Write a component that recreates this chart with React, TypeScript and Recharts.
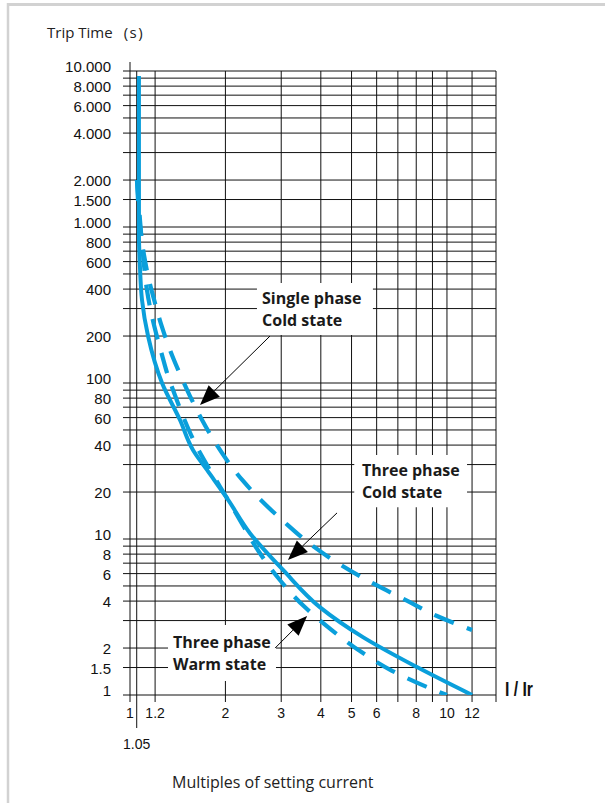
import React from 'react';
import { LineChart, Line, XAxis, YAxis, CartesianGrid, ReferenceLine, ReferenceArea, ReferenceDot } from 'recharts';

const X_MIN = 1;
const X_MAX = 14.28;
const Y_MIN = 1;
const Y_MAX = 10000;

const xGrid = [1, 1.05, 1.2, 2, 3, 4, 5, 6, 7, 8, 9, 10, 12, X_MAX];
const xLabelValues = [1, 1.05, 1.2, 2, 3, 4, 5, 6, 8, 10, 12];
const xLabelTexts = ['1', '1.05', '1.2', '2', '3', '4', '5', '6', '8', '10', '12'];

const yGrid = [1, 1.5, 2, 3, 4, 5, 6, 7, 8, 9, 10, 20, 30, 40, 50, 60, 70, 80, 90, 100, 200, 300, 400, 500, 600, 700, 800, 900, 1000, 1500, 2000, 3000, 4000, 5000, 6000, 7000, 8000, 9000, 10000];
const yLabelValues = [10000, 8000, 6000, 4000, 2000, 1500, 1000, 800, 600, 400, 200, 100, 80, 60, 40, 20, 10, 8, 6, 4, 2, 1.5, 1];
const yLabelTexts = ['10.000', '8.000', '6.000', '4.000', '2.000', '1.500', '1.000', '800', '600', '400', '200', '100', '80', '60', '40', '20', '10', '8', '6', '4', '2', '1.5', '1'];

// Three phase – cold state (solid)
const coldThreeX = [1.067, 1.067, 1.067, 1.075, 1.091, 1.14, 1.262, 1.438, 1.58, 1.75, 2.04, 2.39, 3.04, 3.97, 5.43, 8.04, 12];
const coldThreeY = [9300, 2000, 916, 554, 341, 200, 100, 57.9, 37.2, 27.7, 17.8, 10.9, 6.33, 3.66, 2.35, 1.51, 1];

// Single phase – cold state (dashed, upper)
const coldSingleX = [1.052, 1.075, 1.107, 1.148, 1.199, 1.262, 1.337, 1.438, 1.546, 1.675, 1.827, 2.04, 2.26, 2.53, 3.06, 3.7, 4.63, 5.89, 7.42, 9.3, 12];
const coldSingleY = [2000, 1030, 662, 457, 326, 228, 163, 114, 82.5, 59.7, 43.8, 31.2, 23.9, 18.6, 12.9, 9.29, 6.81, 5.15, 4.06, 3.21, 2.61];

// Three phase – warm state (dashed, lower)
const warmThreeX = [1.052, 1.083, 1.107, 1.131, 1.165, 1.208, 1.262, 1.318, 1.397, 1.491, 1.603, 1.787, 2.04, 2.29, 2.53, 2.97, 3.56, 4.37, 5.36, 6.71, 8.52, 10];
const warmThreeY = [2000, 929, 571, 395, 285, 209, 151, 111, 80.2, 57.1, 41.2, 27.7, 17.8, 11.9, 8.5, 5.46, 3.66, 2.57, 1.89, 1.43, 1.14, 1];

const annotationLines = [['Single phase', 'Cold state'], ['Three phase', 'Cold state'], ['Three phase', 'Warm state']];
const annotationTextX = [2.61, 5.39, 1.366];
const annotationTextY = [321, 25.3, 2.0];
const annotationBoxX = [[2.515, 5.84], [5.1, 11.57], [1.318, 2.888]];
const annotationBoxY = [[203, 437], [16, 34.6], [1.229, 2.81]];
const arrowFrom = [[2.765, 200], [4.5, 14.7], [2.87, 2.0]];
const arrowTo = [[1.663, 72.3], [3.15, 7.33], [3.62, 3.21]];

const zip = (xs: number[], ys: number[]) => xs.map((x, i) => ({ x, y: ys[i] }));
const coldThree = zip(coldThreeX, coldThreeY);
const coldSingle = zip(coldSingleX, coldSingleY);
const warmThree = zip(warmThreeX, warmThreeY);

const BLUE = '#0a9fdb';
const INK = '#111';
const TICK_FONT = "'Liberation Sans', Arial, Helvetica, sans-serif";
const LABEL_FONT = "'Open Sans', 'Noto Sans', sans-serif";

function XTick(props: any) {
  const { x, y, payload } = props;
  const v = payload.value;
  const i = xLabelValues.indexOf(v);
  const long = v === 1.05;
  return (
    <g>
      <line x1={x} x2={x} y1={y} y2={y + (long ? 33 : 7)} stroke={INK} strokeWidth={1} />
      {i >= 0 && (
        <text x={x} y={y + (long ? 54 : 23)} textAnchor="middle" fontSize={14} fontFamily={TICK_FONT} fill={INK}>
          {xLabelTexts[i]}
        </text>
      )}
    </g>
  );
}

function YTick(props: any) {
  const { x, y, payload } = props;
  const v = payload.value;
  const i = yLabelValues.indexOf(v);
  const lg = Math.log10(v);
  const decade = Math.abs(lg - Math.round(lg)) < 1e-9;
  return (
    <g>
      <line x1={x - 7} x2={x} y1={y} y2={y} stroke={INK} strokeWidth={1} />
      {v === Y_MAX && <line x1={x} x2={x} y1={y - 9} y2={y} stroke={INK} strokeWidth={1} />}
      {i >= 0 && (
        <text x={x - 19} y={y + (decade ? 1 : 6)} textAnchor="end" fontSize={15} fontFamily={TICK_FONT} fill={INK}>
          {yLabelTexts[i]}
        </text>
      )}
    </g>
  );
}

function ArrowShape(props: any) {
  const { x1, y1, x2, y2 } = props;
  const dx = x2 - x1;
  const dy = y2 - y1;
  const len = Math.hypot(dx, dy) || 1;
  const ux = dx / len;
  const uy = dy / len;
  const L = 20;
  const W = 8;
  const bx = x2 - ux * L;
  const by = y2 - uy * L;
  const px = -uy * W;
  const py = ux * W;
  return (
    <g>
      <line x1={x1} y1={y1} x2={bx} y2={by} stroke="#000" strokeWidth={1} />
      <polygon points={`${x2},${y2} ${bx + px},${by + py} ${bx - px},${by - py}`} fill="#000" />
    </g>
  );
}

function makeTextShape(lines: string[]) {
  return (props: any) => (
    <text x={props.cx} y={props.cy} fontSize={16} fontWeight={700} fontFamily={LABEL_FONT} fill="#1a1a1a">
      {lines.map((t, k) => (
        <tspan key={k} x={props.cx} dy={k === 0 ? 0 : 22}>
          {t}
        </tspan>
      ))}
    </text>
  );
}

export default function App() {
  return (
    <div style={{ position: 'absolute', left: 0, top: 0, width: 605, height: 803, background: '#fff' }}>
      <LineChart width={605} height={803} margin={{ top: 71, right: 109, bottom: 68, left: 0 }}>
        <CartesianGrid stroke={INK} strokeWidth={1} horizontalValues={yGrid} verticalValues={xGrid} fill="none" />
        <XAxis
          type="number"
          dataKey="x"
          scale="log"
          domain={[X_MIN, X_MAX]}
          allowDataOverflow
          ticks={xGrid}
          interval={0}
          tick={<XTick />}
          tickLine={false}
          axisLine={false}
          tickSize={0}
          tickMargin={0}
          height={40}
        />
        <YAxis
          type="number"
          scale="log"
          domain={[Y_MIN, Y_MAX]}
          allowDataOverflow
          ticks={yGrid}
          interval={0}
          tick={<YTick />}
          tickLine={false}
          axisLine={false}
          tickSize={0}
          tickMargin={0}
          width={130}
        />
        {annotationBoxX.map((bx, i) => (
          <ReferenceArea
            key={'box' + i}
            x1={bx[0]}
            x2={bx[1]}
            y1={annotationBoxY[i][0]}
            y2={annotationBoxY[i][1]}
            fill="#fff"
            fillOpacity={1}
            stroke="none"
          />
        ))}
        <Line data={warmThree} dataKey="y" type="monotoneY" stroke={BLUE} strokeWidth={4.2} strokeDasharray="21 14" dot={false} activeDot={false} isAnimationActive={false} />
        <Line data={coldSingle} dataKey="y" type="monotoneY" stroke={BLUE} strokeWidth={4.2} strokeDasharray="21 14" dot={false} activeDot={false} isAnimationActive={false} />
        <Line data={coldThree} dataKey="y" type="monotoneY" stroke={BLUE} strokeWidth={4} dot={false} activeDot={false} isAnimationActive={false} />
        {arrowFrom.map((f, i) => (
          <ReferenceLine
            key={'arrow' + i}
            segment={[
              { x: f[0], y: f[1] },
              { x: arrowTo[i][0], y: arrowTo[i][1] },
            ]}
            shape={ArrowShape}
          />
        ))}
        {annotationLines.map((lines, i) => (
          <ReferenceDot key={'txt' + i} x={annotationTextX[i]} y={annotationTextY[i]} r={0} shape={makeTextShape(lines)} />
        ))}
      </LineChart>
      <svg width={605} height={803} style={{ position: 'absolute', left: 0, top: 0, pointerEvents: 'none' }}>
        <line x1={8} y1={3} x2={8} y2={803} stroke="#d2d2d2" strokeWidth={2.5} />
        <line x1={7} y1={4.5} x2={605} y2={4.5} stroke="#d2d2d2" strokeWidth={3} />
        <text x={47} y={38} fontSize={15} fontFamily={LABEL_FONT} fill="#222">
          Trip Time<tspan dx={11} letterSpacing={1.5}>(s)</tspan>
        </text>
        <text x={172} y={788} fontSize={16} fontFamily={LABEL_FONT} fill="#222">
          Multiples of setting current
        </text>
        <text x={505} y={696} fontSize={20} fontWeight={700} fontFamily={TICK_FONT} fill="#111" textLength={28} lengthAdjust="spacingAndGlyphs">
          I / Ir
        </text>
      </svg>
    </div>
  );
}
